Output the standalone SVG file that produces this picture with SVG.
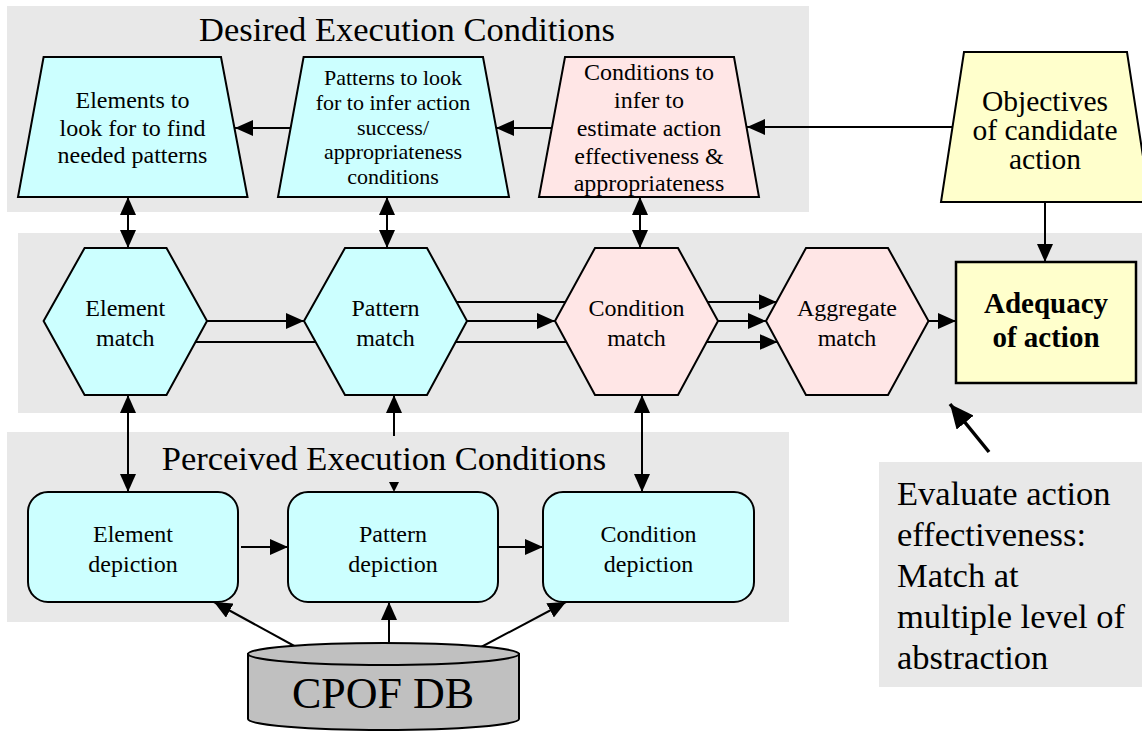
<svg xmlns="http://www.w3.org/2000/svg" width="1142" height="732" viewBox="0 0 1142 732">
<style>
.band{fill:#e8e8e8;stroke:none}
.cyan{fill:#ccffff;stroke:#000;stroke-width:2}
.pink{fill:#ffe6e6;stroke:#000;stroke-width:2}
.yellow{fill:#ffffcc;stroke:#000;stroke-width:2}
.t{font-family:"Liberation Serif","Times New Roman",serif;fill:#000;text-anchor:middle}
.f24{font-size:24px}
.f22{font-size:22px}
.big{font-size:34.5px}
.c{stroke:#000;stroke-width:2;fill:none}
</style>
<defs>
<marker id="ah" markerUnits="userSpaceOnUse" markerWidth="18" markerHeight="16" refX="18" refY="8" orient="auto-start-reverse" viewBox="0 0 18 16">
<path d="M0,0 L18,8 L0,16 Z" fill="#000"/>
</marker>
<marker id="ahb" markerUnits="userSpaceOnUse" markerWidth="24" markerHeight="22" refX="24" refY="11" orient="auto" viewBox="0 0 24 22">
<path d="M0,0 L24,11 L0,22 Z" fill="#000"/>
</marker>
</defs>

<rect class="band" x="7" y="6" width="802" height="206"/>
<rect class="band" x="18" y="233" width="1124" height="180"/>
<rect class="band" x="7" y="432" width="782" height="190"/>
<rect id="note" class="band" x="879" y="462" width="263" height="225"/>

<text class="t big" x="407" y="41">Desired Execution Conditions</text>
<text class="t big" x="384" y="470">Perceived Execution Conditions</text>

<g id="connectors">
<line class="c" x1="290" y1="128" x2="235" y2="128" marker-end="url(#ah)"/>
<line class="c" x1="552" y1="128" x2="496" y2="128" marker-end="url(#ah)"/>
<line class="c" x1="953" y1="127" x2="747" y2="127" marker-end="url(#ah)"/>
<line class="c" x1="1045" y1="202" x2="1045" y2="262" marker-end="url(#ah)"/>
<line class="c" x1="128" y1="197" x2="128" y2="248" marker-start="url(#ah)" marker-end="url(#ah)"/>
<line class="c" x1="387" y1="197" x2="387" y2="248" marker-start="url(#ah)" marker-end="url(#ah)"/>
<line class="c" x1="640" y1="197" x2="640" y2="248" marker-start="url(#ah)" marker-end="url(#ah)"/>
<line class="c" x1="207" y1="321" x2="304" y2="321" marker-end="url(#ah)"/>
<line class="c" x1="195" y1="342" x2="316" y2="342"/>
<line class="c" x1="456" y1="302" x2="566" y2="302"/>
<line class="c" x1="467" y1="321" x2="555" y2="321" marker-end="url(#ah)"/>
<line class="c" x1="455" y1="342" x2="567" y2="342"/>
<line class="c" x1="707" y1="302" x2="776.5" y2="302" marker-end="url(#ah)"/>
<line class="c" x1="718" y1="321" x2="766" y2="321" marker-end="url(#ah)"/>
<line class="c" x1="706" y1="342" x2="777.5" y2="342" marker-end="url(#ah)"/>
<line class="c" x1="928.5" y1="321" x2="956" y2="321" marker-end="url(#ah)"/>
<line class="c" x1="128" y1="395" x2="128" y2="492" marker-start="url(#ah)" marker-end="url(#ah)"/>
<line class="c" x1="394" y1="436" x2="394" y2="395" marker-end="url(#ah)"/>
<polygon points="389,482 399,482 394,492" fill="#000"/>
<line class="c" x1="642" y1="395" x2="642" y2="492" marker-start="url(#ah)" marker-end="url(#ah)"/>
<line class="c" x1="309" y1="654" x2="214" y2="602" marker-end="url(#ah)"/>
<line class="c" x1="389" y1="654" x2="389" y2="602" marker-end="url(#ah)"/>
<line class="c" x1="468" y1="654" x2="566" y2="602" marker-end="url(#ah)"/>
<line class="c" x1="241" y1="547" x2="288" y2="547" marker-end="url(#ah)"/>
<line class="c" x1="498" y1="547" x2="543" y2="547" marker-end="url(#ah)"/>
<line x1="989" y1="452" x2="950" y2="404" stroke="#000" stroke-width="3.5" marker-end="url(#ahb)"/>
</g>

<g id="elements-to-look">
<polygon class="cyan" points="43.6,57 221,57 247.5,197 18,197"/>
<text class="t f24" x="132.5" y="108">Elements to</text>
<text class="t f24" x="132.5" y="136">look for to find</text>
<text class="t f24" x="132.5" y="163">needed patterns</text>
</g>

<g id="patterns-to-look">
<polygon class="cyan" points="303.6,57 483,57 509,197 278,197"/>
<text class="t f22" x="393" y="85">Patterns to look</text>
<text class="t f22" x="393" y="110">for to infer action</text>
<text class="t f22" x="393" y="135">success/</text>
<text class="t f22" x="393" y="159">appropriateness</text>
<text class="t f22" x="393" y="184">conditions</text>
</g>

<g id="conditions-to-infer">
<polygon class="pink" points="565,57 734,57 759,197 539,197"/>
<text class="t f24" x="649" y="80">Conditions to</text>
<text class="t f24" x="649" y="108">infer to</text>
<text class="t f24" x="649" y="136">estimate action</text>
<text class="t f24" x="649" y="164">effectiveness &amp;</text>
<text class="t f24" x="649" y="191">appropriateness</text>
</g>

<g id="objectives">
<polygon class="yellow" points="964,52 1127,52 1150,202 941,202"/>
<text class="t" style="font-size:29.5px" x="1045" y="111">Objectives</text>
<text class="t" style="font-size:29.5px" x="1045" y="140">of candidate</text>
<text class="t" style="font-size:29.5px" x="1045" y="169">action</text>
</g>

<g id="element-match">
<polygon class="cyan" points="43.6,321 84.6,248 166.5,248 207,321 166.5,395 84.6,395"/>
<text class="t f24" x="125.3" y="316">Element</text>
<text class="t f24" x="125.3" y="346">match</text>
</g>

<g id="pattern-match">
<polygon class="cyan" points="304,321 345,248 427,248 467,321 427,395 345,395"/>
<text class="t f24" x="385.5" y="316">Pattern</text>
<text class="t f24" x="385.5" y="346">match</text>
</g>

<g id="condition-match">
<polygon class="pink" points="555,321 595,248 678,248 718,321 678,395 595,395"/>
<text class="t f24" x="636.5" y="316">Condition</text>
<text class="t f24" x="636.5" y="346">match</text>
</g>

<g id="aggregate-match">
<polygon class="pink" points="766,321 806,248 888,248 928.5,321 888,395 806,395"/>
<text class="t f24" x="847" y="316">Aggregate</text>
<text class="t f24" x="847" y="346">match</text>
</g>

<g id="adequacy">
<rect x="956" y="262" width="180" height="121" fill="#ffffcc" stroke="#000" stroke-width="2.5"/>
<text class="t" style="font-size:29px;font-weight:bold" x="1046" y="313">Adequacy</text>
<text class="t" style="font-size:29px;font-weight:bold" x="1046" y="347">of action</text>
</g>

<g id="element-depiction">
<rect class="cyan" x="28" y="492" width="210" height="110" rx="20"/>
<text class="t f24" x="133" y="542">Element</text>
<text class="t f24" x="133" y="572">depiction</text>
</g>

<g id="pattern-depiction">
<rect class="cyan" x="288" y="492" width="210" height="110" rx="20"/>
<text class="t f24" x="393" y="542">Pattern</text>
<text class="t f24" x="393" y="572">depiction</text>
</g>

<g id="condition-depiction">
<rect class="cyan" x="543" y="492" width="211" height="110" rx="20"/>
<text class="t f24" x="648.5" y="542">Condition</text>
<text class="t f24" x="648.5" y="572">depiction</text>
</g>

<g id="cpof-db">
<path d="M248,654 L248,719 A135.5,11 0 0 0 519,719 L519,654 Z" fill="#c0c0c0" stroke="#000" stroke-width="2"/>
<ellipse cx="383.5" cy="654" rx="135.5" ry="11" fill="#c0c0c0" stroke="#000" stroke-width="2"/>
<text class="t" style="font-size:44px" x="383" y="708">CPOF DB</text>
</g>

<g id="note-text">
<text class="t big" style="text-anchor:start" x="897" y="505">Evaluate action</text>
<text class="t big" style="text-anchor:start" x="897" y="546">effectiveness:</text>
<text class="t big" style="text-anchor:start" x="897" y="587">Match at</text>
<text class="t big" style="text-anchor:start" x="897" y="628">multiple level of</text>
<text class="t big" style="text-anchor:start" x="897" y="669">abstraction</text>
</g>
</svg>
